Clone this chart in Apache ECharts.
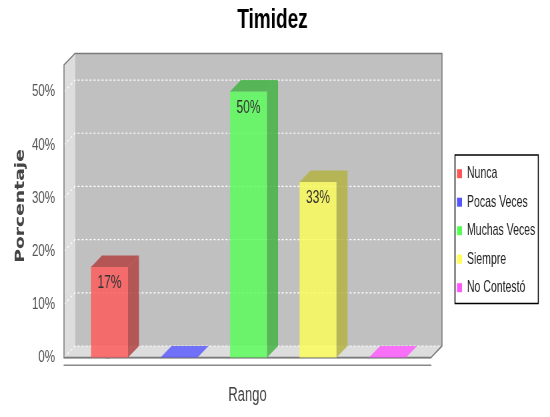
<!DOCTYPE html>
<html>
<head>
<meta charset="utf-8">
<script src="https://cdn.jsdelivr.net/npm/echarts@6/dist/echarts.min.js"></script>
<style>
  html, body { margin: 0; padding: 0; background: #ffffff; width: 550px; height: 417px; }
  #marco { position: relative; width: 550px; height: 417px; }
  /* the chart is drawn at a 550x278 size and shown stretched to 550x417 */
  #chart { position: absolute; left: 0; top: 0; width: 550px; height: 278px;
           transform: scaleY(1.5); transform-origin: 0 0; }
</style>
</head>
<body>
<div id="marco"><div id="chart"></div></div>
<script>
// Survey answers and their share of responses
const titulo = 'Timidez';
const ejeY = 'Porcentaje';
const ejeX = ['Rango'];
const respuestas = ['Nunca', 'Pocas Veces', 'Muchas Veces', 'Siempre', 'No Contestó'];
const porcentajes = [17, 0, 50, 33, 0];
const marcasY = [0, 10, 20, 30, 40, 50];

// Styling
const colores = ['#ff5555', '#5555ff', '#55ff55', '#ffff55', '#ff55ff'];
const SANS = "'Liberation Sans',Arial,sans-serif";
const DX = 11, DY = 7.67;   // depth of the 3D box
const ANCHO = 0.532;        // bar width in slot units

function rgb(hex) {
  const n = parseInt(hex.slice(1), 16);
  return [(n >> 16) & 255, (n >> 8) & 255, n & 255];
}
function rgba(hex, a, f) {
  const c = rgb(hex).map(v => Math.floor(v * (f || 1)));
  return 'rgba(' + c[0] + ',' + c[1] + ',' + c[2] + ',' + a + ')';
}

// Back wall, side wall, floor, gridlines and outline of the 3D plot box
function renderCaja(params, api) {
  const cs = params.coordSys;
  const x = cs.x, y = cs.y, w = cs.width, h = cs.height, b = y + h;
  const children = [
    { type: 'polygon', shape: { points: [[x + DX, y - DY], [x + w + DX, y - DY], [x + w + DX, b - DY], [x + DX, b - DY]] },
      style: { fill: '#c0c0c0' } },
    { type: 'polygon', shape: { points: [[x, y], [x + DX, y - DY], [x + DX, b - DY], [x, b]] },
      style: { fill: '#dddddd' } },
    { type: 'polygon', shape: { points: [[x, b], [x + DX, b - DY], [x + w + DX, b - DY], [x + w, b]] },
      style: { fill: '#dddddd' } }
  ];
  marcasY.forEach(v => {
    const yy = api.coord([0, v])[1];
    children.push({
      type: 'polyline',
      shape: { points: [[x, yy], [x + DX, yy - DY], [x + w + DX, yy - DY]] },
      style: { stroke: '#ffffff', lineWidth: 0.8, lineDash: [2, 2], fill: 'none' }
    });
  });
  children.push({
    type: 'polygon',
    shape: { points: [[x, b], [x, y], [x + DX, y - DY], [x + w + DX, y - DY], [x + w + DX, b - DY], [x + w, b]] },
    style: { fill: 'none', stroke: '#7a7a7a', lineWidth: 1 }
  });
  return { type: 'group', children: children };
}

// One 3D bar: front face, top face, right side face and value label
function renderBarra(i) {
  return function (params, api) {
    const xi = api.value(0), v = api.value(1);
    const base = api.coord([xi, 0]);
    const top = api.coord([xi, v]);
    const w = api.size([ANCHO, 0])[0];
    const x0 = base[0] - w / 2, x1 = x0 + w, yb = base[1], yt = top[1];
    const frente = rgba(colores[i], 0.8);
    const oscuro = rgba(colores[i], 0.8, 0.7);
    const children = [
      { type: 'rect', shape: { x: x0, y: yt, width: w, height: yb - yt }, style: { fill: frente } },
      { type: 'polygon', shape: { points: [[x0, yt], [x0 + DX, yt - DY], [x1 + DX, yt - DY], [x1, yt]] },
        style: { fill: v > 0 ? oscuro : frente } },
      { type: 'polygon', shape: { points: [[x1, yt], [x1 + DX, yt - DY], [x1 + DX, yb - DY], [x1, yb]] },
        style: { fill: oscuro } }
    ];
    if (v > 0) {
      children.push({
        type: 'text', x: (x0 + x1) / 2, y: yt + 10.7,
        style: { text: v + '%', fill: '#333333', fontSize: 12, fontFamily: SANS,
                 align: 'center', verticalAlign: 'middle' }
      });
    }
    return { type: 'group', children: children };
  };
}

const series = [{
  type: 'custom', name: 'caja', xAxisIndex: 1, yAxisIndex: 0, z: 1, silent: true,
  data: [[0, 0]], renderItem: renderCaja
}].concat(respuestas.map((nombre, i) => ({
  type: 'custom', name: nombre, xAxisIndex: 1, yAxisIndex: 0, z: 3,
  itemStyle: { color: colores[i] },
  data: [[i, porcentajes[i]]],
  renderItem: renderBarra(i)
})));

const chart = echarts.init(document.getElementById('chart'), null, { renderer: 'canvas', devicePixelRatio: 1.5 });
chart.setOption({
  animation: false,
  backgroundColor: '#ffffff',
  graphic: [
    { type: 'text', x: 272.5, y: 13.6,
      style: { text: titulo, fill: '#000000', font: "bold 19px " + SANS,
               align: 'center', verticalAlign: 'middle', textAlign: 'center', textVerticalAlign: 'middle' } },
    { type: 'text', x: 20.5, y: 137.3, rotation: Math.PI / 2,
      style: { text: ejeY, fill: '#444444', font: "bold 12.5px 'DejaVu Sans',sans-serif",
               align: 'center', verticalAlign: 'middle', textAlign: 'center', textVerticalAlign: 'middle' } }
  ],
  legend: {
    orient: 'vertical', left: 455, top: 103.3,
    data: respuestas, icon: 'rect', itemWidth: 5, itemHeight: 6, itemGap: 8,
    padding: [7, 3, 5, 2], borderColor: '#000000', borderWidth: 1,
    selectedMode: false,
    textStyle: { fontSize: 10.5, fontFamily: SANS, color: '#222222' }
  },
  grid: { left: 64, right: 119, top: 43.33, bottom: 39.67, outerBoundsMode: 'none' },
  xAxis: [
    { type: 'category', data: ejeX, position: 'bottom', offset: 3.67,
      axisLine: { lineStyle: { color: '#888888' } },
      axisTick: { alignWithLabel: true, length: 2.7, lineStyle: { color: '#888888' } },
      axisLabel: { margin: 15.5, fontSize: 13, fontFamily: SANS, color: '#444444' } },
    { type: 'value', min: -0.655, max: 4.625, position: 'bottom', offset: 5.2,
      axisLine: { show: true, lineStyle: { color: '#888888' } },
      axisTick: { show: false }, axisLabel: { show: false }, splitLine: { show: false } }
  ],
  yAxis: {
    type: 'value', min: 0, max: 55, interval: 10, offset: 3,
    axisLine: { show: true, lineStyle: { color: '#888888' } },
    axisTick: { show: true, length: 4, customValues: marcasY, lineStyle: { color: '#888888' } },
    axisLabel: { formatter: '{value}%', margin: 6, fontSize: 11.5, fontFamily: SANS, color: '#555555',
                 customValues: marcasY },
    splitLine: { show: false }
  },
  series: series
});
</script>
</body>
</html>
